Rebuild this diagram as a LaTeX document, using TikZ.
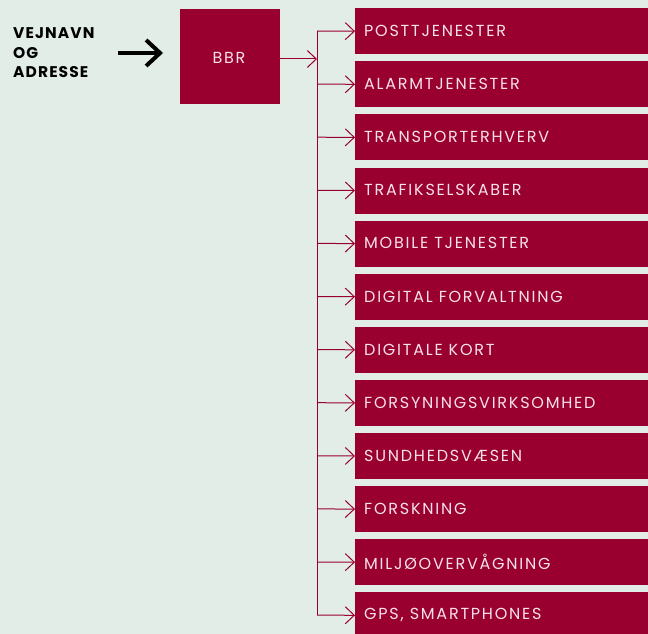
\documentclass[tikz,border=0pt]{standalone}
\usepackage{fontspec}
\setmainfont{Poppins}
\newfontfamily\boxfont[LetterSpace=11]{Poppins}
\newfontfamily\headfont[LetterSpace=7]{Poppins}[BoldFont=* Bold]
\usetikzlibrary{arrows.meta}
\definecolor{bgc}{RGB}{226,237,231}
\definecolor{boxc}{RGB}{153,0,48}
\definecolor{txtc}{RGB}{245,225,232}
\tikzset{
  catbox/.style={fill=boxc, draw=none, minimum width=300pt, minimum height=46pt, anchor=north west, inner sep=0pt},
  cattext/.style={text=txtc, font=\boxfont\fontsize{16}{18}\selectfont, anchor=west, inner sep=0pt},
  conn/.style={draw=boxc, line width=1pt, -{Straight Barb[length=9pt,width=17pt,line width=1pt]}},
}
\begin{document}
\begin{tikzpicture}[x=1pt,y=-1pt]
\fill[bgc] (0,0) rectangle (648,634);
\useasboundingbox (0,0) rectangle (648,634);
\begin{scope}
\clip (0,0) rectangle (648,634);
\node[fill=boxc, minimum width=100pt, minimum height=95pt, anchor=north west, inner sep=0pt] (bbr) at (180,9) {};
\node[text=txtc, font=\boxfont\fontsize{16}{18}\selectfont, inner sep=0pt] at (229,58) {BBR};
\node[font=\headfont\bfseries\fontsize{15.5}{19.5}\selectfont, align=left, anchor=west, inner sep=0pt] (lbl) at (13,53) {VEJNAVN\\OG\\ADRESSE};
\coordinate (ba) at (118,53);
\coordinate (bb) at (163,53);
\draw[line width=4pt, -{Straight Barb[length=14pt,width=26pt,line width=4pt]}] (ba) -- (bb);
\coordinate (sp) at (317,59);
\draw[conn] (280,59) -- (sp);
\foreach \i/\t in {0/POSTTJENESTER,1/ALARMTJENESTER,2/TRANSPORTERHVERV,3/TRAFIKSELSKABER,4/MOBILE TJENESTER,5/DIGITAL FORVALTNING,6/DIGITALE KORT,7/FORSYNINGSVIRKSOMHED,8/SUNDHEDSVÆSEN,9/FORSKNING,10/MILJØOVERVÅGNING,11/GPS{,} SMARTPHONES}{
  \pgfmathsetmacro{\yy}{8+53.1*\i}
  \node[catbox] (c\i) at (355,\yy) {};
  \node[cattext] at (364,\yy+23) {\t};
  \coordinate (v\i) at (317,\yy+23);
  \draw[conn] (v\i) -- (c\i.west);
}
\draw[draw=boxc, line width=1pt] (v0) -- (v11);
\end{scope}
\end{tikzpicture}
\end{document}
